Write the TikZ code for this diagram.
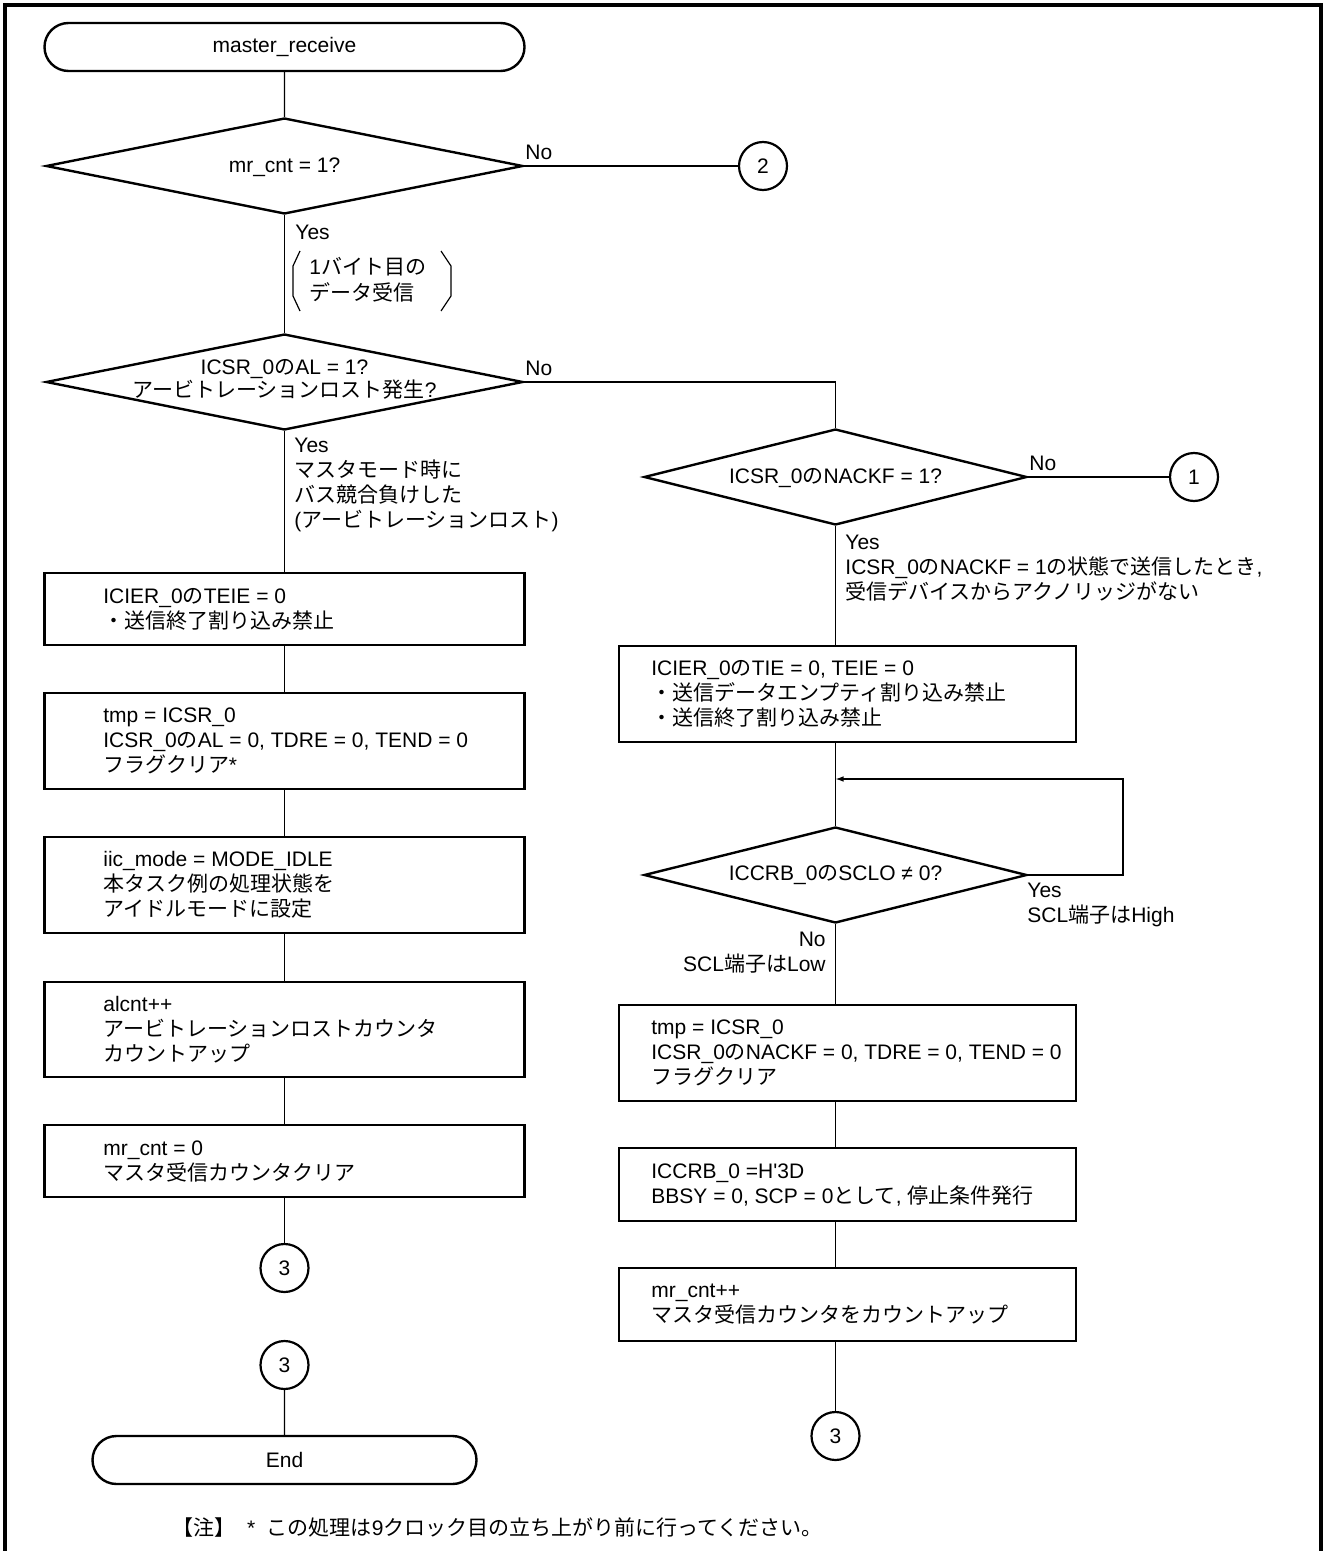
\documentclass[tikz,border=0pt]{standalone}
\usepackage{fontspec}
\setmainfont{Liberation Sans}
\newfontfamily\jpfont{Noto Sans CJK JP}[Scale=1.0]
\newcommand{\ja}[1]{{\jpfont #1}}
\usetikzlibrary{shapes.geometric,shapes.misc,arrows.meta}

\begin{document}
\begin{tikzpicture}[x=0.5pt,y=-0.5pt,font=\fontsize{10.5pt}{12.5pt}\selectfont,
  term/.style={draw,line width=1.2pt,rounded rectangle,inner sep=0pt,minimum height=24pt},
  proc/.style={draw,line width=1.2pt,rectangle,inner sep=0pt},
  cond/.style={draw,line width=1.2pt,diamond,inner sep=0pt,minimum height=48pt},
  conn/.style={draw,line width=1.1pt,circle,inner sep=0pt,minimum size=24pt},
  txt/.style={align=left,inner sep=0pt,anchor=west},
  flow/.style={line width=0.6pt}]
\useasboundingbox (0,0) rectangle (1324,1551);
\draw[line width=1.8pt] (5,1551) -- (5,5) -- (1321,5) -- (1321,1551);

% left column
\node[term,minimum width=240pt] (start) at (284.5,47) {master\_receive};
\node[cond,minimum width=238.5pt] (d1) at (284.5,166) {};
\node (q1) at (284.5,167) {mr\_cnt = 1?};
\node[conn] (c2) at (763,166) {2};
\node[cond,minimum width=238.5pt] (d2) at (284.5,382) {};
\node[align=center,inner sep=0pt,font=\fontsize{10.5pt}{11.5pt}\selectfont] (q2) at (284.5,379) {ICSR\_0\ja{の}AL = 1?\\\ja{アービトレーションロスト発生}?};
\node[proc,minimum width=240pt,minimum height=36pt] (b1) at (284.5,609) {};
\node[txt] (t1) at (103,609) {ICIER\_0\ja{の}TEIE = 0\\\ja{・送信終了割り込み禁止}};
\node[proc,minimum width=240pt,minimum height=48pt] (b2) at (284.5,741) {};
\node[txt] (t2) at (103,741) {tmp = ICSR\_0\\ICSR\_0\ja{の}AL = 0, TDRE = 0, TEND = 0\\\ja{フラグクリア}*};
\node[proc,minimum width=240pt,minimum height=48pt] (b3) at (284.5,885) {};
\node[txt] (t3) at (103,885) {iic\_mode = MODE\_IDLE\\\ja{本タスク例の処理状態を}\\\ja{アイドルモードに設定}};
\node[proc,minimum width=240pt,minimum height=47.5pt] (b4) at (284.5,1029.5) {};
\node[txt] (t4) at (103,1029.5) {alcnt++\\\ja{アービトレーションロストカウンタ}\\\ja{カウントアップ}};
\node[proc,minimum width=240pt,minimum height=36pt] (b5) at (284.5,1161) {};
\node[txt] (t5) at (103,1161) {mr\_cnt = 0\\\ja{マスタ受信カウンタクリア}};
\node[conn] (c3a) at (284.5,1268) {3};
\node[conn] (c3b) at (284.5,1365) {3};
\node[term,minimum width=192pt] (end) at (284.5,1460) {End};

% right column
\node[cond,minimum width=191.5pt] (d3) at (835.5,477) {};
\node (q3) at (835.5,478) {ICSR\_0\ja{の}NACKF = 1?};
\node[conn] (c1) at (1194,477) {1};
\node[proc,minimum width=228.5pt,minimum height=48pt] (r1) at (847.5,694) {};
\node[txt] (s1) at (651,694) {ICIER\_0\ja{の}TIE = 0, TEIE = 0\\\ja{・送信データエンプティ割り込み禁止}\\\ja{・送信終了割り込み禁止}};
\node[cond,minimum width=191.5pt] (d4) at (835.5,875) {};
\node (q4) at (835.5,875) {ICCRB\_0\ja{の}SCLO ≠ 0?};
\node[proc,minimum width=228.5pt,minimum height=48pt] (r2) at (847.5,1053) {};
\node[txt] (s2) at (651,1053) {tmp = ICSR\_0\\ICSR\_0\ja{の}NACKF = 0, TDRE = 0, TEND = 0\\\ja{フラグクリア}};
\node[proc,minimum width=228.5pt,minimum height=36.5pt] (r3) at (847.5,1184.5) {};
\node[txt] (s3) at (651,1184.5) {ICCRB\_0 =H\textquotesingle 3D\\BBSY = 0, SCP = 0\ja{として}, \ja{停止条件発行}};
\node[proc,minimum width=228.5pt,minimum height=36.5pt] (r4) at (847.5,1304.5) {};
\node[txt] (s4) at (651,1304.5) {mr\_cnt++\\\ja{マスタ受信カウンタをカウントアップ}};
\node[conn] (c3c) at (835.5,1436) {3};
\coordinate (lp) at (1123,779);
\coordinate (jn) at (835.5,779);

% labels
\node[inner sep=0pt,anchor=base west] (n1) at (525,160) {No};
\node[txt] (y1) at (295,232) {Yes};
\node[txt,font=\fontsize{10.5pt}{13pt}\selectfont] (m1) at (309,280) {1\ja{バイト目の}\\\ja{データ受信}};
\node[inner sep=0pt,anchor=base west] (n2) at (525,375) {No};
\node[txt] (y2) at (294,485) {Yes\\\ja{マスタモード時に}\\\ja{バス競合負けした}\\(\ja{アービトレーションロスト})};
\node[inner sep=0pt,anchor=base west] (n3) at (1029,470) {No};
\node[txt] (y3) at (845,568) {Yes\\ICSR\_0\ja{の}NACKF = 1\ja{の状態で送信したとき},\\\ja{受信デバイスからアクノリッジがない}};
\node[txt] (y4) at (1027,904.5) {Yes\\SCL\ja{端子は}High};
\node[align=right,inner sep=0pt,anchor=east] (n4) at (826,952.5) {No\\SCL\ja{端子は}Low};
\node[txt] (note) at (172,1527) {\ja{【注】}\ \ *\ \ \ja{この処理は}9\ja{クロック目の立ち上がり前に行ってください。}};

% brackets round the note
\draw[flow] (300,251) -- (293,266) -- (293,296) -- (300,311);
\draw[flow] (441,251) -- (451,266) -- (451,296) -- (441,311);

% connectors
\draw[flow] (start) -- (d1);
\draw[flow] (d1) -- (c2);
\draw[flow] (d1) -- (d2);
\draw[flow] (d2) -- (b1);
\draw[flow] (b1) -- (b2);
\draw[flow] (b2) -- (b3);
\draw[flow] (b3) -- (b4);
\draw[flow] (b4) -- (b5);
\draw[flow] (b5) -- (c3a);
\draw[flow] (c3b) -- (end);
\draw[flow] (d2.east) -| (d3.north);
\draw[flow] (d3) -- (c1);
\draw[flow] (d3) -- (d3 |- r1.north);
\draw[flow] (d3 |- r1.south) -- (d4);
\draw[flow,-{Latex[length=4pt,width=2.8pt]}] (d4.east) -| (lp) -- (jn);
\draw[flow] (d4) -- (d4 |- r2.north);
\draw[flow] (d4 |- r2.south) -- (d4 |- r3.north);
\draw[flow] (d4 |- r3.south) -- (d4 |- r4.north);
\draw[flow] (d4 |- r4.south) -- (c3c);
\end{tikzpicture}
\end{document}
